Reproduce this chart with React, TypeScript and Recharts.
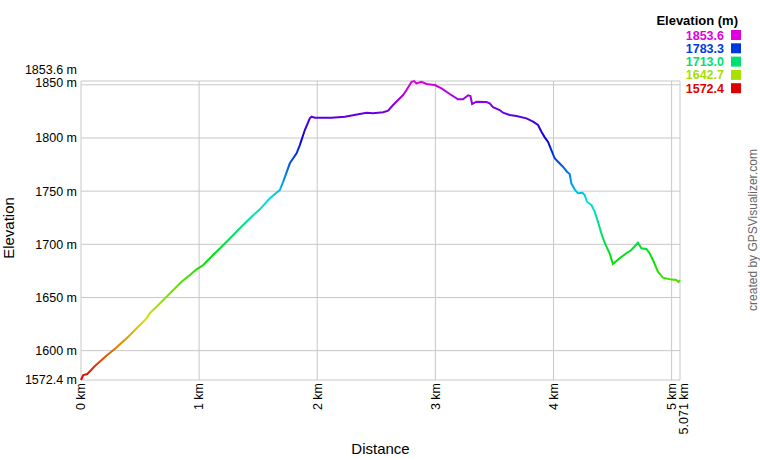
import { LineChart, Line, XAxis, YAxis, CartesianGrid, Legend, Label } from "recharts";

const FONT = "Arial, 'Liberation Sans', sans-serif";

// profile, distance in km / elevation in m
const distanceKm = [
  0, 0.019, 0.053, 0.118, 0.217, 0.288, 0.4, 0.471, 0.556, 0.584, 0.64, 0.767, 0.852, 0.922, 0.979,
  1.035, 1.119, 1.233, 1.345, 1.444, 1.514, 1.599, 1.684, 1.712, 1.768, 1.825, 1.853, 1.895, 1.937,
  1.952, 1.98, 2.121, 2.234, 2.36, 2.417, 2.473, 2.558, 2.6, 2.642, 2.727, 2.756, 2.798, 2.82, 2.84,
  2.882, 2.925, 2.995, 3.052, 3.122, 3.192, 3.234, 3.277, 3.297, 3.311, 3.348, 3.432, 3.46, 3.488,
  3.545, 3.573, 3.629, 3.686, 3.771, 3.827, 3.869, 3.898, 3.926, 3.953, 3.982, 4.01, 4.038, 4.08,
  4.114, 4.137, 4.151, 4.179, 4.207, 4.245, 4.264, 4.283, 4.321, 4.349, 4.376, 4.405, 4.433, 4.475,
  4.503, 4.56, 4.617, 4.659, 4.715, 4.744, 4.786, 4.814, 4.842, 4.884, 4.926, 4.983, 5.04, 5.059, 5.071,
];
const elevationM = [
  1572.4, 1577.1, 1578.0, 1585.6, 1595.4, 1601.7, 1613.1, 1621.0, 1630.4, 1635.4, 1641.3, 1655.4,
  1664.8, 1671.1, 1676.5, 1680.5, 1690.0, 1702.5, 1715.1, 1726.0, 1732.9, 1743.3, 1751.1, 1758.9,
  1776.2, 1785.6, 1793.4, 1807.5, 1818.5, 1820.0, 1819.1, 1819.1, 1820.0, 1822.6, 1823.8, 1823.2,
  1824.2, 1825.7, 1831.0, 1840.4, 1845.1, 1852.9, 1853.6, 1851.4, 1852.9, 1850.8, 1849.8, 1846.7,
  1841.4, 1836.4, 1836.4, 1840.2, 1839.5, 1832.0, 1834.1, 1833.8, 1832.6, 1828.9, 1826.3, 1823.8,
  1821.6, 1820.7, 1818.5, 1815.3, 1812.2, 1805.9, 1800.6, 1796.5, 1788.7, 1780.9, 1777.7, 1773.0,
  1768.3, 1766.1, 1757.4, 1751.7, 1748.0, 1748.5, 1746.4, 1740.1, 1737.0, 1730.7, 1721.3, 1710.4,
  1701.5, 1691.6, 1681.5, 1686.9, 1691.6, 1694.7, 1701.5, 1696.3, 1695.6, 1691.6, 1685.3, 1674.2,
  1668.6, 1667.1, 1666.4, 1664.6, 1666.4,
];

const distanceTicks = [0, 1, 2, 3, 4, 5, 5.071];
const elevationTicks = [1572.4, 1600, 1650, 1700, 1750, 1800, 1850, 1853.6];

const MIN_ELEV = 1572.4;
const MAX_ELEV = 1853.6;

const colorFor = (m: number) => `hsl(${(300 * (m - MIN_ELEV)) / (MAX_ELEV - MIN_ELEV)}, 100%, 44%)`;
const legendValues = [0, 1, 2, 3, 4].map((i) => MAX_ELEV - (i * (MAX_ELEV - MIN_ELEV)) / 4);
const gradientStops = Array.from({ length: 21 }, (_, i) => i / 20);

const data = distanceKm.map((km, i) => ({ km, elev: elevationM[i] }));

const fmtKm = (v: number) => (Number.isInteger(v) ? `${v} km` : `${v.toFixed(3)} km`);
const fmtM = (v: number) => (Number.isInteger(v) ? `${v} m` : `${v.toFixed(1)} m`);

function YTick({ x, y, payload }: any) {
  // nudge the two crowded top labels apart like the original
  const shift = payload.value === 1853.6 ? -11 : payload.value === 1850 ? -2 : 0;
  return (
    <text x={x} y={y + shift} dy="0.35em" textAnchor="end" fontSize={12.5} fontFamily={FONT} fill="#000">
      {fmtM(payload.value)}
    </text>
  );
}

function XTick({ x, y, payload }: any) {
  // end label sits just right of the 5 km one
  const shift = Number.isInteger(payload.value) ? 0 : 4;
  return (
    <text
      transform={`translate(${x + shift},${y}) rotate(-90)`}
      dy="0.35em"
      textAnchor="end"
      fontSize={12.5}
      fontFamily={FONT}
      fill="#000"
    >
      {fmtKm(payload.value)}
    </text>
  );
}

function ElevationLegend() {
  return (
    <svg width={760} height={100} style={{ display: "block" }}>
      <text x={738} y={25} textAnchor="end" fontSize={13} fontWeight="bold" fontFamily={FONT} fill="#000">
        Elevation (m)
      </text>
      {legendValues.map((v, i) => (
        <g key={i}>
          <text
            x={724}
            y={39.5 + i * 13.3}
            textAnchor="end"
            fontSize={12.5}
            fontWeight="bold"
            fontFamily={FONT}
            fill={colorFor(v)}
          >
            {v.toFixed(1)}
          </text>
          <rect x={731} y={30 + i * 13.3} width={10} height={10} fill={colorFor(v)} />
        </g>
      ))}
    </svg>
  );
}

export default function App() {
  return (
    <div style={{ position: "absolute", left: 0, top: 0, width: 760, height: 460, background: "#fff" }}>
      <LineChart width={760} height={460} data={data} margin={{ top: 81, right: 80, bottom: 0, left: 0 }}>
        <defs>
          <linearGradient id="elevGrad" gradientUnits="userSpaceOnUse" x1={0} y1={81} x2={0} y2={380}>
            {gradientStops.map((o) => (
              <stop key={o} offset={o} stopColor={colorFor(MAX_ELEV - o * (MAX_ELEV - MIN_ELEV))} />
            ))}
          </linearGradient>
        </defs>
        <CartesianGrid stroke="#c8c8c8" strokeWidth={1} />
        <XAxis
          dataKey="km"
          type="number"
          domain={[0, 5.071]}
          ticks={distanceTicks}
          interval={0}
          height={80}
          axisLine={false}
          tickLine={false}
          tickSize={0}
          tickMargin={3}
          tick={<XTick />}
        >
          <Label
            content={() => (
              <text x={380.5} y={454} textAnchor="middle" fontSize={15} fontFamily={FONT} fill="#000">
                Distance
              </text>
            )}
          />
        </XAxis>
        <YAxis
          type="number"
          domain={[MIN_ELEV, MAX_ELEV]}
          ticks={elevationTicks}
          interval={0}
          width={81}
          axisLine={false}
          tickLine={false}
          tickSize={0}
          tickMargin={4}
          tick={<YTick />}
        >
          <Label
            content={() => (
              <text
                transform="translate(14,228) rotate(-90)"
                textAnchor="middle"
                fontSize={15}
                fontFamily={FONT}
                fill="#000"
              >
                Elevation
              </text>
            )}
          />
        </YAxis>
        <Legend
          layout="horizontal"
          verticalAlign="middle"
          align="center"
          wrapperStyle={{ position: "absolute", left: 0, top: 0, width: 760, height: 100 }}
          content={() => <ElevationLegend />}
        />
        <Line
          type="linear"
          dataKey="elev"
          stroke="url(#elevGrad)"
          strokeWidth={2}
          dot={false}
          activeDot={false}
          isAnimationActive={false}
        />
        <text
          transform="translate(757,230) rotate(-90)"
          textAnchor="middle"
          fontSize={12}
          fontFamily={FONT}
          fill="#666"
        >
          created by GPSVisualizer.com
        </text>
      </LineChart>
    </div>
  );
}
